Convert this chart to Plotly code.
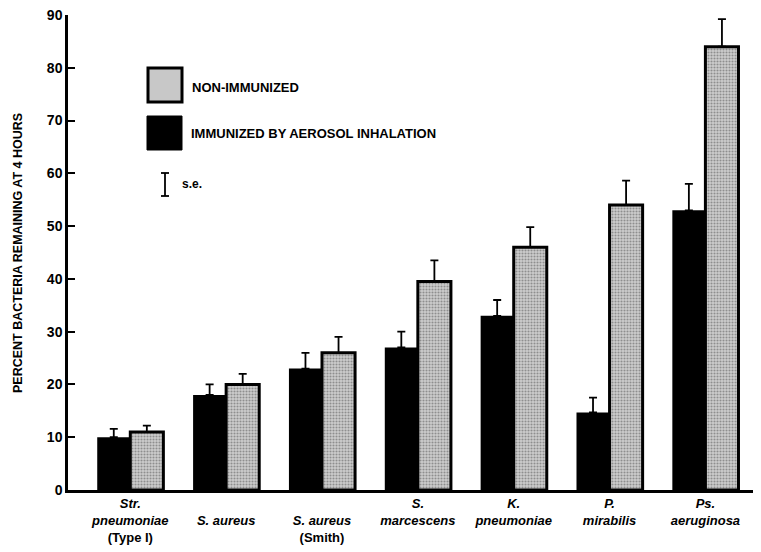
import plotly.graph_objects as go

categories = ["Str. pneumoniae (Type I)", "S. aureus", "S. aureus (Smith)", "S. marcescens",
              "K. pneumoniae", "P. mirabilis", "Ps. aeruginosa"]
tick_labels = [
    "<i>Str.</i><br><i>pneumoniae</i><br>(Type I)",
    " <br><i>S. aureus</i>",
    " <br><i>S. aureus</i><br>(Smith)",
    "<i>S.</i><br><i>marcescens</i>",
    "<i>K.</i><br><i>pneumoniae</i>",
    "<i>P.</i><br><i>mirabilis</i>",
    "<i>Ps.</i><br><i>aeruginosa</i>",
]
immunized = [10, 18, 23, 27, 33, 14.7, 53]
immunized_se = [1.6, 2.0, 3.0, 3.0, 3.0, 2.8, 5.0]
non_immunized = [11, 20, 26, 39.5, 46, 54, 84]
non_immunized_se = [1.2, 2.0, 3.0, 4.0, 3.8, 4.6, 5.2]
y_ticks = [0, 10, 20, 30, 40, 50, 60, 70, 80, 90]

OFF = 8  # default page body margin
W, H = 761 - OFF, 552 - OFF
L, R, T, B = 60, 0, 7, 62
pw, ph = W - L - R, H - T - B

def px(x):
    return (x - OFF - L) / pw

def py(y):
    return (H - B - (y - OFF)) / ph

x_idx = list(range(len(categories)))
font = "Liberation Sans, Arial, sans-serif"

fig = go.Figure()
fig.add_trace(go.Bar(
    x=x_idx, y=immunized, name="IMMUNIZED BY AEROSOL INHALATION",
    marker=dict(color="black", line=dict(color="black", width=0)),
    error_y=dict(type="data", symmetric=False, array=immunized_se,
                 arrayminus=[0] * len(immunized), color="black", thickness=1.8, width=4),
))
fig.add_trace(go.Bar(
    x=x_idx, y=non_immunized, name="NON-IMMUNIZED",
    marker=dict(color="#c0c0c0", line=dict(color="black", width=3),
                pattern=dict(shape=".", fgcolor="#505050", bgcolor="#cdcdcd",
                             size=3, solidity=0.4)),
    error_y=dict(type="data", symmetric=False, array=non_immunized_se,
                 arrayminus=[0] * len(non_immunized), color="black", thickness=1.8, width=4),
))

shapes = []
ann = []
shapes.append(dict(type="rect", xref="paper", yref="paper",
                   x0=px(148), x1=px(182), y0=py(102), y1=py(68),
                   fillcolor="#c8c8c8", line=dict(color="black", width=3)))
shapes.append(dict(type="rect", xref="paper", yref="paper",
                   x0=px(147), x1=px(182), y0=py(150), y1=py(116),
                   fillcolor="black", line=dict(color="black", width=1)))
shapes.append(dict(type="line", xref="paper", yref="paper",
                   x0=px(165), x1=px(165), y0=py(196), y1=py(173),
                   line=dict(color="black", width=1.8)))
for yy in (173, 196):
    shapes.append(dict(type="line", xref="paper", yref="paper",
                       x0=px(161), x1=px(169), y0=py(yy), y1=py(yy),
                       line=dict(color="black", width=1.8)))
ann.append(dict(xref="paper", yref="paper", x=px(190), y=py(88), text="<b>NON-IMMUNIZED</b>",
                showarrow=False, xanchor="left", yanchor="middle",
                font=dict(family=font, size=13, color="black")))
ann.append(dict(xref="paper", yref="paper", x=px(189), y=py(133),
                text="<b>IMMUNIZED BY AEROSOL INHALATION</b>",
                showarrow=False, xanchor="left", yanchor="middle",
                font=dict(family=font, size=13, color="black")))
ann.append(dict(xref="paper", yref="paper", x=px(180), y=py(184), text="<b>s.e.</b>",
                showarrow=False, xanchor="left", yanchor="middle",
                font=dict(family=font, size=12, color="black")))
ann.append(dict(xref="paper", yref="paper", x=px(18), y=py(253),
                text="<b>PERCENT BACTERIA REMAINING AT 4 HOURS</b>", textangle=-90,
                showarrow=False, xanchor="center", yanchor="middle",
                font=dict(family=font, size=12.5, color="black")))

fig.update_layout(
    width=W, height=H, margin=dict(l=L, r=R, t=T, b=B),
    paper_bgcolor="white", plot_bgcolor="white",
    barmode="group", bargap=0.31, bargroupgap=0,
    showlegend=False, shapes=shapes, annotations=ann,
    font=dict(family=font, color="black"),
)
fig.update_xaxes(range=[-0.65, 6.58], tickmode="array", tickvals=x_idx,
                 ticktext=[f"<b>{t}</b>" for t in tick_labels],
                 showline=True, linecolor="black", linewidth=2.5, ticks="",
                 showgrid=False, zeroline=False,
                 tickfont=dict(family=font, size=13, color="black"))
fig.update_yaxes(range=[0, 90], tickmode="array", tickvals=y_ticks,
                 ticktext=[f"<b>{v}</b>" for v in y_ticks],
                 showline=True, linecolor="black", linewidth=2.5,
                 ticks="inside", ticklen=7, tickwidth=2, tickcolor="black",
                 ticklabeloverflow="allow",
                 showgrid=False, zeroline=False,
                 tickfont=dict(family=font, size=14, color="black"))

fig.write_html("out.html")
